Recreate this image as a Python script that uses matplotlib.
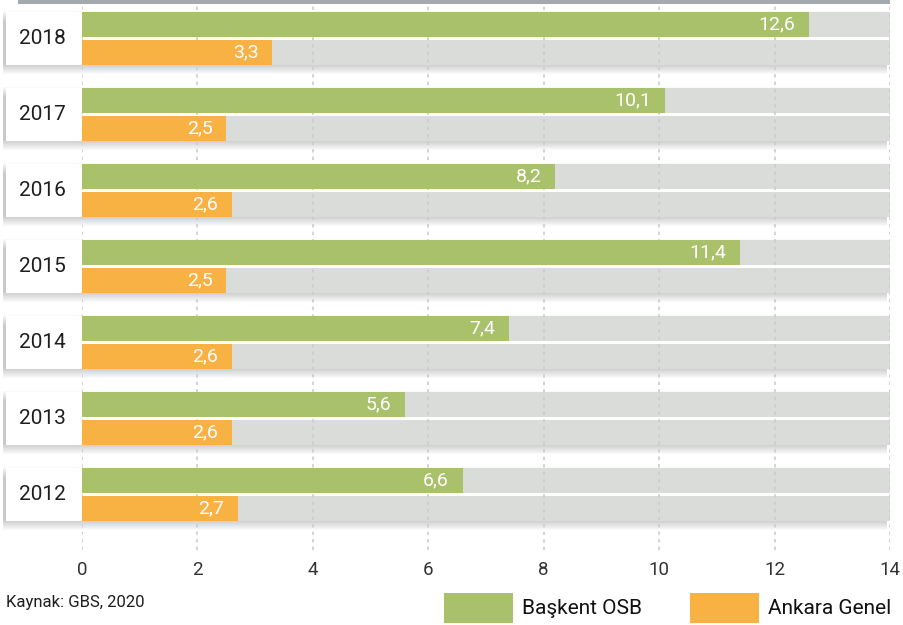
import matplotlib.pyplot as plt
from matplotlib.patches import Rectangle

plt.rcParams["font.family"] = ["Roboto", "DejaVu Sans"]

years = ["2018", "2017", "2016", "2015", "2014", "2013", "2012"]
baskent = [12.6, 10.1, 8.2, 11.4, 7.4, 5.6, 6.6]
ankara = [3.3, 2.5, 2.6, 2.5, 2.6, 2.6, 2.7]
xticks = [0, 2, 4, 6, 8, 10, 12, 14]

GREEN = "#a9c16a"
ORANGE = "#f8b143"
TRACK = "#d9dcd9"
TEXT = "#1e1e1e"

W, H = 904, 625
fig = plt.figure(figsize=(W / 100, H / 100), dpi=100)
ax = fig.add_axes([82 / W, 75 / H, 808 / W, 550 / H])

XMAX = 14
ux = XMAX / 808  # data units per pixel (x)
uy = 1 / 76  # data units per pixel (y), one group per 76 px

ax.set_xlim(0, XMAX)
ax.set_ylim(550 * uy, 0)

bar_h = 25 * uy
g_off = 12 * uy + bar_h / 2
o_off = 40 * uy + bar_h / 2
left = -76 * ux

for i, year in enumerate(years):
    top = i + 12 * uy
    bottom = i + 65 * uy
    # soft shadow under each group
    for k in range(-1, 10):
        ax.add_patch(Rectangle((left - 3 * ux, top + k * uy), XMAX - left,
                               bottom - top, color="#5a5a5a", alpha=0.03,
                               lw=0, zorder=1, clip_on=False))
    ax.add_patch(Rectangle((left, top), XMAX - left, bottom - top,
                           color="white", lw=0, zorder=2, clip_on=False))
    ax.text(-40 * ux, (top + bottom) / 2, year, ha="center", va="center",
            fontsize=15, color=TEXT, zorder=6)

y_green = [i + g_off for i in range(len(years))]
y_orange = [i + o_off for i in range(len(years))]

ax.barh(y_green, [XMAX] * len(years), height=bar_h, color=TRACK, zorder=3)
ax.barh(y_orange, [XMAX] * len(years), height=bar_h, color=TRACK, zorder=3)

for x in xticks:
    ax.axvline(x, color="#cccccc", lw=1.2, ls=(0, (2, 2.5)), zorder=3.5)

ax.barh(y_green, baskent, height=bar_h, color=GREEN, zorder=4)
ax.barh(y_orange, ankara, height=bar_h, color=ORANGE, zorder=4)

for y, v in zip(y_green, baskent):
    ax.annotate(f"{v:.1f}".replace(".", ","), (v, y), xytext=(-10, 0),
                textcoords="offset points", ha="right", va="center",
                color="white", fontsize=14, zorder=5)
for y, v in zip(y_orange, ankara):
    ax.annotate(f"{v:.1f}".replace(".", ","), (v, y), xytext=(-10, 0),
                textcoords="offset points", ha="right", va="center",
                color="white", fontsize=14, zorder=5)

ax.set_xticks(xticks)
ax.set_xticklabels([str(t) for t in xticks], fontsize=13.5, color="#333333")
ax.tick_params(axis="x", length=0, pad=8)
ax.set_yticks([])
for s in ax.spines.values():
    s.set_visible(False)
ax.patch.set_alpha(0)

# top rule
fig.add_artist(Rectangle((18 / W, 1 - 4 / H), 872 / W, 4 / H,
                         transform=fig.transFigure, color="#a3aaad", lw=0))

# source note
fig.text(6 / W, 1 - 603 / H, "Kaynak: GBS, 2020", fontsize=12,
         color=TEXT, ha="left", va="center")

# legend
for x0, color, label in [(444, GREEN, "Başkent OSB"), (690, ORANGE, "Ankara Genel")]:
    fig.add_artist(Rectangle((x0 / W, 1 - 623 / H), 69 / W, 30 / H,
                             transform=fig.transFigure, color=color, lw=0))
    fig.text((x0 + 78) / W, 1 - 608 / H, label, fontsize=15, color="#111111",
             ha="left", va="center")

fig.savefig("out.png", dpi=100)
